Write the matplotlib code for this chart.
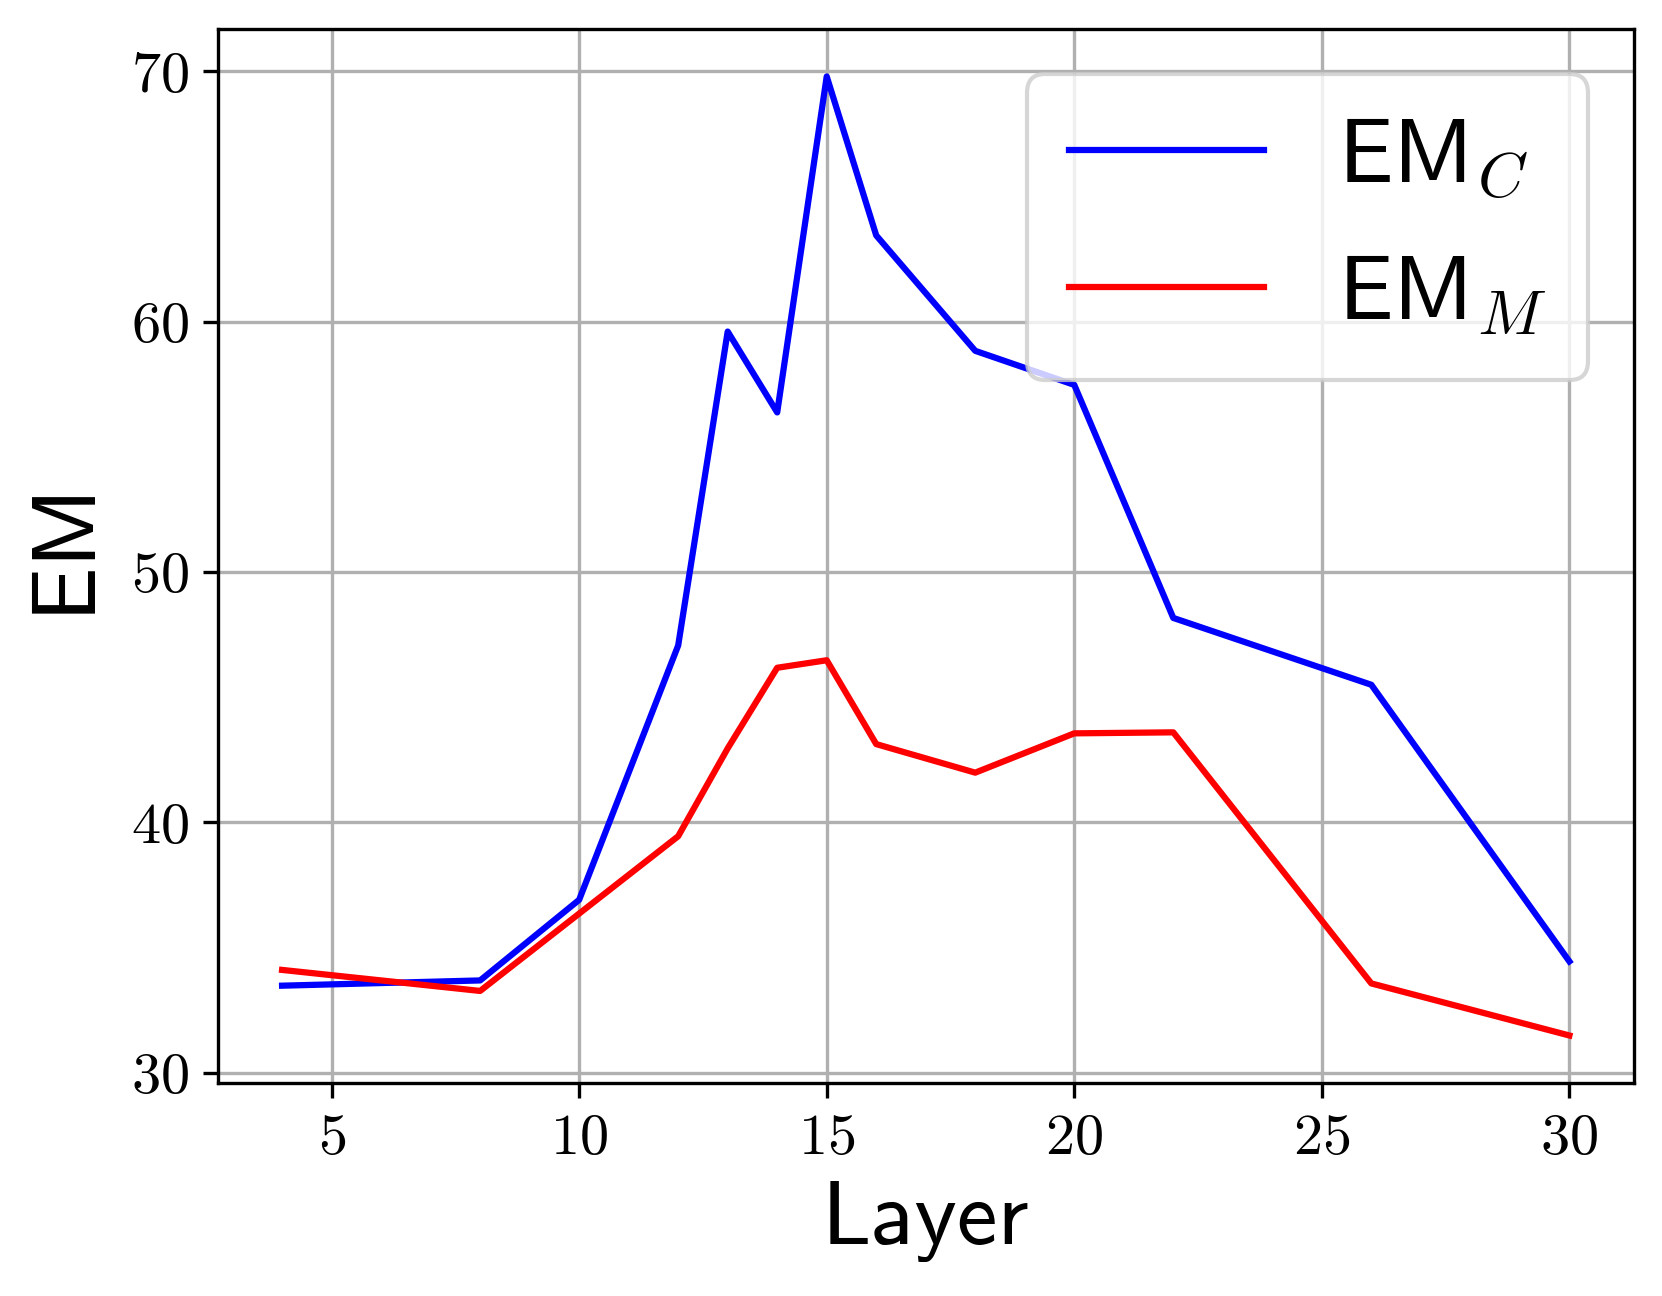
import matplotlib
matplotlib.use("Agg")
import matplotlib.pyplot as plt

layers = [4, 8, 10, 12, 13, 14, 15, 16, 18, 20, 22, 26, 30]
em_c = [33.47, 33.68, 36.9, 47.06, 59.6, 56.37, 69.79, 63.44, 58.83, 57.47, 48.16, 45.49, 34.44]
em_m = [34.1, 33.26, 36.35, 39.44, 42.95, 46.17, 46.47, 43.12, 41.98, 43.55, 43.59, 33.56, 31.48]
labels = [r"EM$_C$", r"EM$_M$"]

plt.rcParams["mathtext.fontset"] = "cm"
plt.rcParams["font.family"] = "cmss10"
plt.rcParams["axes.unicode_minus"] = False


def main() -> None:
    fig = plt.figure(figsize=(5.54, 4.32), dpi=300)
    ax = fig.add_axes([0.131, 0.164, 0.852, 0.814])

    ax.plot(layers, em_c, color="blue", linewidth=1.5, label=labels[0])
    ax.plot(layers, em_m, color="red", linewidth=1.5, label=labels[1])

    ax.set_xlabel("Layer", fontsize=22)
    ax.set_ylabel("EM", fontsize=22, labelpad=6)
    ax.yaxis.label.set_y(0.51)
    ax.set_xticks([5, 10, 15, 20, 25, 30])
    ax.set_yticks([30, 40, 50, 60, 70])
    fmt = plt.FuncFormatter(lambda v, _: f"${v:g}$")
    ax.xaxis.set_major_formatter(fmt)
    ax.yaxis.set_major_formatter(fmt)
    ax.tick_params(labelsize=14)
    ax.grid(True)
    ax.legend(loc="upper right", fontsize=22, handlelength=2.13,
              labelspacing=0.58, borderpad=0.46)

    fig.savefig("out.png", dpi=300)


if __name__ == "__main__":
    main()
